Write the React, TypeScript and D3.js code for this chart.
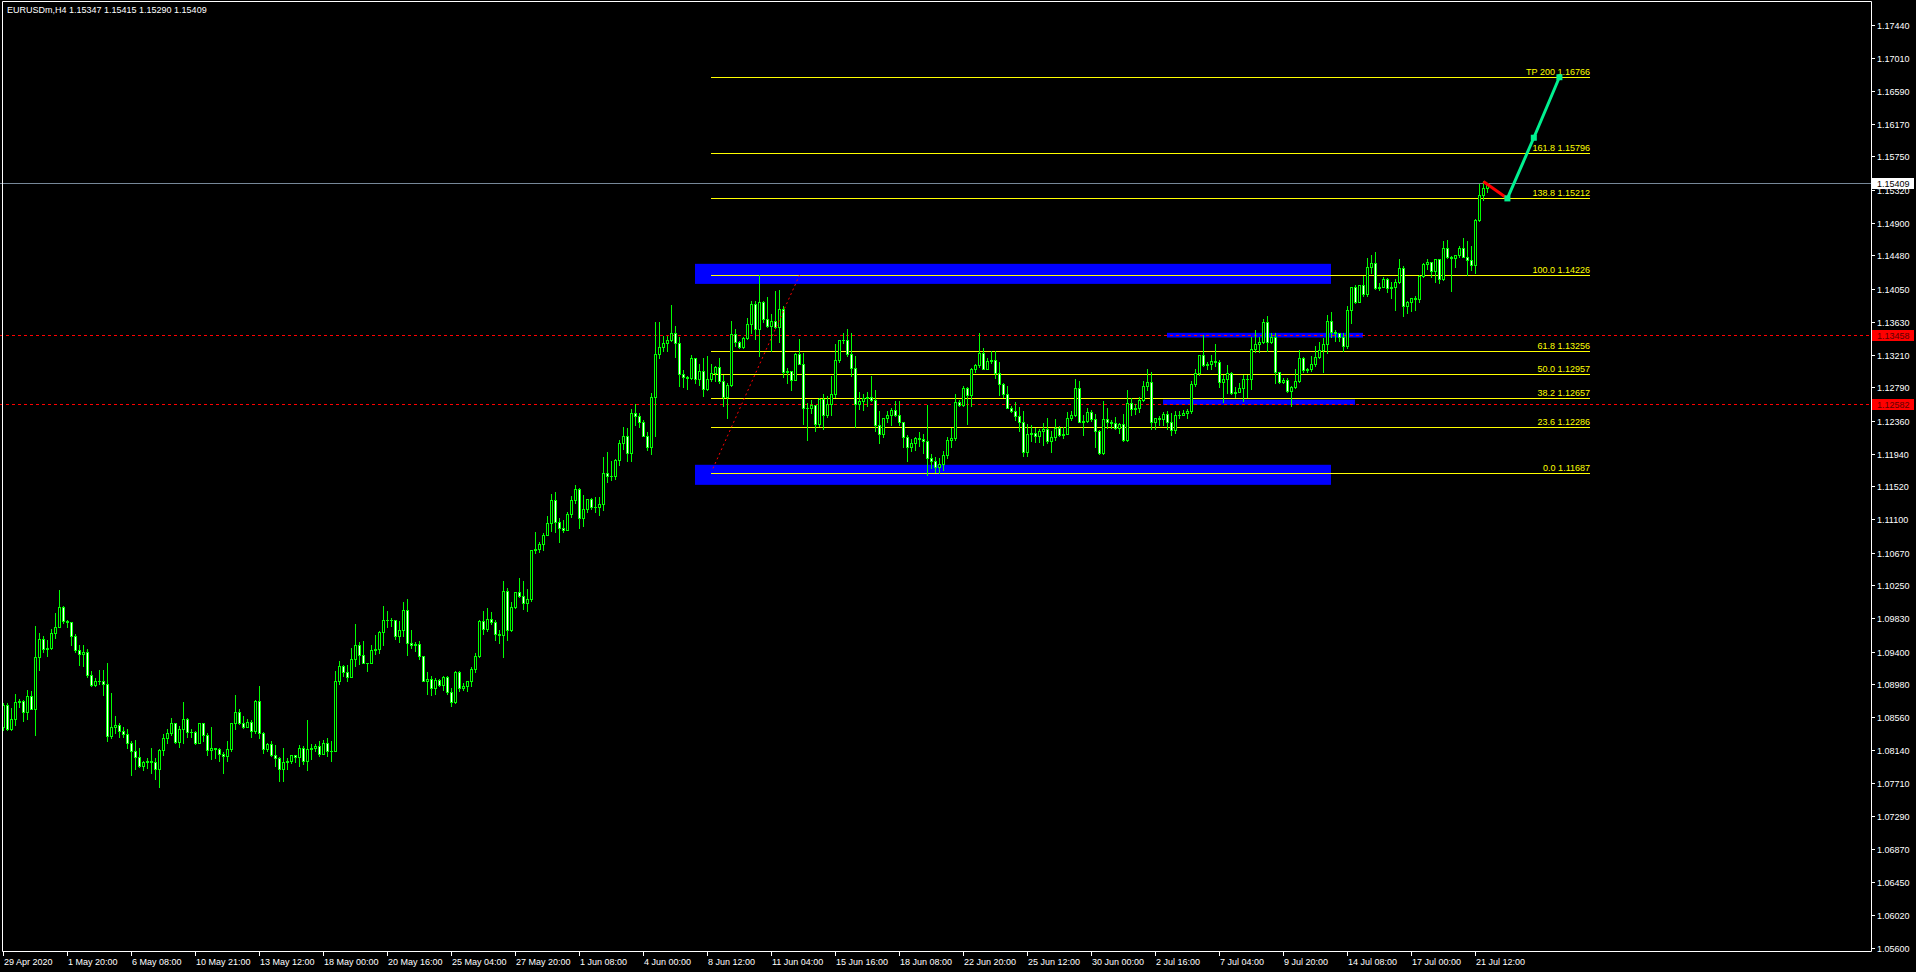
import React from 'react';
import * as d3 from 'd3';

const W = 1916;
const H = 972;
const PLOT_RIGHT = 1871;
const PLOT_BOTTOM = 951;

const symbolHeader = 'EURUSDm,H4  1.15347 1.15415 1.15290 1.15409';

const firstOpen = 1.0844;
const closes = [
  1.0871, 1.0841, 1.0853, 1.0876, 1.0877, 1.0862, 1.0883, 1.0867, 1.0933, 1.0956,
  1.0944, 1.0945, 1.0964, 1.0972, 1.0997, 1.0979, 1.0978, 1.0960, 1.0942, 1.0937,
  1.0940, 1.0910, 1.0897, 1.0902, 1.0903, 1.0898, 1.0832, 1.0843, 1.0846, 1.0838,
  1.0834, 1.0823, 1.0812, 1.0805, 1.0793, 1.0798, 1.0800, 1.0799, 1.0790, 1.0814,
  1.0829, 1.0836, 1.0848, 1.0824, 1.0841, 1.0854, 1.0837, 1.0837, 1.0823, 1.0848,
  1.0833, 1.0814, 1.0817, 1.0815, 1.0809, 1.0806, 1.0815, 1.0849, 1.0863, 1.0849,
  1.0844, 1.0850, 1.0838, 1.0877, 1.0836, 1.0815, 1.0821, 1.0808, 1.0804, 1.0790,
  1.0799, 1.0800, 1.0807, 1.0805, 1.0817, 1.0800, 1.0815, 1.0816, 1.0819, 1.0809,
  1.0823, 1.0812, 1.0812, 1.0903, 1.0921, 1.0914, 1.0907, 1.0930, 1.0949, 1.0936,
  1.0926, 1.0926, 1.0942, 1.0943, 1.0965, 1.0980, 1.0980, 1.0980, 1.0960, 1.0968,
  1.0994, 1.0951, 1.0949, 1.0950, 1.0934, 1.0903, 1.0905, 1.0893, 1.0904, 1.0897,
  1.0908, 1.0888, 1.0875, 1.0914, 1.0894, 1.0896, 1.0902, 1.0918, 1.0935, 1.0979,
  1.0969, 1.0982, 1.0978, 1.0962, 1.0961, 1.1018, 1.0968, 1.0997, 1.1017, 1.1011,
  1.1003, 1.1007, 1.1070, 1.1072, 1.1078, 1.1090, 1.1105, 1.1135, 1.1106, 1.1099,
  1.1096, 1.1116, 1.1134, 1.1149, 1.1111, 1.1123, 1.1136, 1.1126, 1.1126, 1.1129,
  1.1169, 1.1165, 1.1165, 1.1186, 1.1207, 1.1217, 1.1195, 1.1246, 1.1242, 1.1235,
  1.1216, 1.1202, 1.1266, 1.1322, 1.1331, 1.1336, 1.1340, 1.1348, 1.1336, 1.1296,
  1.1292, 1.1291, 1.1316, 1.1289, 1.1300, 1.1277, 1.1289, 1.1297, 1.1305, 1.1287,
  1.1266, 1.1282, 1.1347, 1.1337, 1.1331, 1.1342, 1.1360, 1.1386, 1.1354, 1.1389,
  1.1366, 1.1357, 1.1364, 1.1356, 1.1379, 1.1299, 1.1300, 1.1288, 1.1322, 1.1309,
  1.1252, 1.1252, 1.1256, 1.1232, 1.1264, 1.1244, 1.1258, 1.1270, 1.1314, 1.1339,
  1.1340, 1.1322, 1.1304, 1.1258, 1.1261, 1.1265, 1.1266, 1.1263, 1.1230, 1.1219,
  1.1240, 1.1243, 1.1250, 1.1243, 1.1234, 1.1215, 1.1202, 1.1208, 1.1214, 1.1213,
  1.1210, 1.1188, 1.1185, 1.1177, 1.1180, 1.1192, 1.1211, 1.1214, 1.1260, 1.1256,
  1.1278, 1.1269, 1.1302, 1.1307, 1.1323, 1.1303, 1.1313, 1.1314, 1.1297, 1.1283,
  1.1270, 1.1252, 1.1249, 1.1242, 1.1234, 1.1196, 1.1219, 1.1220, 1.1217, 1.1223,
  1.1226, 1.1210, 1.1215, 1.1227, 1.1218, 1.1219, 1.1240, 1.1244, 1.1278, 1.1235,
  1.1236, 1.1247, 1.1238, 1.1223, 1.1195, 1.1238, 1.1234, 1.1233, 1.1227, 1.1232,
  1.1212, 1.1259, 1.1251, 1.1252, 1.1263, 1.1281, 1.1286, 1.1235, 1.1239, 1.1238,
  1.1245, 1.1235, 1.1224, 1.1243, 1.1244, 1.1246, 1.1248, 1.1283, 1.1297, 1.1320,
  1.1307, 1.1309, 1.1313, 1.1312, 1.1286, 1.1289, 1.1297, 1.1272, 1.1273, 1.1278,
  1.1289, 1.1289, 1.1328, 1.1334, 1.1337, 1.1363, 1.1337, 1.1343, 1.1298, 1.1286,
  1.1288, 1.1274, 1.1280, 1.1287, 1.1317, 1.1301, 1.1302, 1.1309, 1.1318, 1.1327,
  1.1335, 1.1364, 1.1350, 1.1349, 1.1344, 1.1332, 1.1378, 1.1407, 1.1389, 1.1410,
  1.1398, 1.1433, 1.1438, 1.1406, 1.1408, 1.1418, 1.1406, 1.1407, 1.1414, 1.1432,
  1.1383, 1.1388, 1.1393, 1.1392, 1.1422, 1.1437, 1.1440, 1.1428, 1.1443, 1.1418,
  1.1457, 1.1446, 1.1445, 1.1449, 1.1457, 1.1446, 1.1442, 1.1436, 1.1494, 1.1526,
  1.15347, 1.15409,
];
const highs = [
  1.0874, 1.0874, 1.0868, 1.0886, 1.0879, 1.0878, 1.0891, 1.0889, 1.0973, 1.0964,
  1.0960, 1.0955, 1.0969, 1.0990, 1.1019, 1.0999, 1.0981, 1.0969, 1.0962, 1.0948,
  1.0949, 1.0943, 1.0915, 1.0906, 1.0916, 1.0916, 1.0925, 1.0887, 1.0858, 1.0848,
  1.0843, 1.0841, 1.0825, 1.0827, 1.0817, 1.0800, 1.0804, 1.0817, 1.0804, 1.0815,
  1.0834, 1.0841, 1.0855, 1.0849, 1.0845, 1.0876, 1.0855, 1.0841, 1.0838, 1.0849,
  1.0849, 1.0836, 1.0843, 1.0817, 1.0817, 1.0811, 1.0826, 1.0849, 1.0885, 1.0866,
  1.0858, 1.0853, 1.0852, 1.0878, 1.0896, 1.0837, 1.0823, 1.0825, 1.0820, 1.0805,
  1.0817, 1.0804, 1.0808, 1.0807, 1.0820, 1.0819, 1.0852, 1.0822, 1.0821, 1.0825,
  1.0827, 1.0829, 1.0825, 1.0915, 1.0928, 1.0923, 1.0923, 1.0945, 1.0976, 1.0953,
  1.0954, 1.0926, 1.0948, 1.0961, 1.0966, 1.0999, 1.0992, 1.0983, 1.0981, 1.0979,
  1.1004, 1.1008, 1.0968, 1.0953, 1.0954, 1.0935, 1.0914, 1.0909, 1.0906, 1.0905,
  1.0909, 1.0909, 1.0894, 1.0915, 1.0915, 1.0900, 1.0902, 1.0920, 1.0938, 1.0981,
  1.0992, 1.0996, 1.0991, 1.0980, 1.0968, 1.1031, 1.1022, 1.1004, 1.1017, 1.1035,
  1.1031, 1.1020, 1.1070, 1.1094, 1.1081, 1.1092, 1.1114, 1.1142, 1.1145, 1.1111,
  1.1109, 1.1119, 1.1140, 1.1154, 1.1150, 1.1141, 1.1136, 1.1137, 1.1138, 1.1138,
  1.1189, 1.1196, 1.1185, 1.1187, 1.1212, 1.1228, 1.1227, 1.1251, 1.1257, 1.1246,
  1.1237, 1.1222, 1.1272, 1.1363, 1.1363, 1.1345, 1.1345, 1.1385, 1.1357, 1.1343,
  1.1301, 1.1293, 1.1321, 1.1317, 1.1309, 1.1316, 1.1319, 1.1309, 1.1306, 1.1316,
  1.1295, 1.1284, 1.1364, 1.1354, 1.1338, 1.1343, 1.1368, 1.1390, 1.1390, 1.1423,
  1.1390, 1.1395, 1.1373, 1.1402, 1.1404, 1.1383, 1.1304, 1.1297, 1.1323, 1.1341,
  1.1323, 1.1259, 1.1263, 1.1255, 1.1265, 1.1270, 1.1268, 1.1294, 1.1334, 1.1340,
  1.1348, 1.1354, 1.1348, 1.1319, 1.1273, 1.1270, 1.1273, 1.1294, 1.1276, 1.1249,
  1.1240, 1.1248, 1.1252, 1.1262, 1.1262, 1.1235, 1.1218, 1.1213, 1.1215, 1.1222,
  1.1219, 1.1256, 1.1193, 1.1189, 1.1188, 1.1197, 1.1215, 1.1227, 1.1271, 1.1263,
  1.1281, 1.1280, 1.1304, 1.1309, 1.1349, 1.1329, 1.1316, 1.1326, 1.1326, 1.1312,
  1.1285, 1.1281, 1.1255, 1.1260, 1.1254, 1.1248, 1.1232, 1.1231, 1.1227, 1.1225,
  1.1233, 1.1240, 1.1223, 1.1238, 1.1229, 1.1228, 1.1247, 1.1248, 1.1289, 1.1287,
  1.1243, 1.1252, 1.1250, 1.1245, 1.1224, 1.1261, 1.1253, 1.1237, 1.1241, 1.1233,
  1.1245, 1.1276, 1.1265, 1.1257, 1.1267, 1.1287, 1.1302, 1.1298, 1.1240, 1.1242,
  1.1247, 1.1248, 1.1246, 1.1248, 1.1248, 1.1250, 1.1251, 1.1287, 1.1302, 1.1321,
  1.1346, 1.1312, 1.1321, 1.1334, 1.1314, 1.1295, 1.1307, 1.1299, 1.1279, 1.1284,
  1.1295, 1.1295, 1.1344, 1.1353, 1.1344, 1.1366, 1.1371, 1.1349, 1.1349, 1.1299,
  1.1291, 1.1291, 1.1281, 1.1302, 1.1327, 1.1318, 1.1304, 1.1319, 1.1332, 1.1337,
  1.1342, 1.1372, 1.1376, 1.1353, 1.1349, 1.1349, 1.1383, 1.1408, 1.1410, 1.1410,
  1.1422, 1.1445, 1.1448, 1.1453, 1.1413, 1.1420, 1.1419, 1.1414, 1.1418, 1.1443,
  1.1434, 1.1390, 1.1393, 1.1396, 1.1423, 1.1439, 1.1444, 1.1440, 1.1444, 1.1443,
  1.1467, 1.1468, 1.1447, 1.1449, 1.1460, 1.1471, 1.1467, 1.1460, 1.1495, 1.1540,
  1.1543, 1.15415,
];
const lows = [
  1.0839, 1.0840, 1.0839, 1.0846, 1.0869, 1.0851, 1.0853, 1.0866, 1.0833, 1.0917,
  1.0939, 1.0934, 1.0943, 1.0958, 1.0972, 1.0977, 1.0972, 1.0949, 1.0940, 1.0923,
  1.0922, 1.0908, 1.0896, 1.0896, 1.0898, 1.0884, 1.0825, 1.0829, 1.0836, 1.0831,
  1.0831, 1.0816, 1.0782, 1.0790, 1.0792, 1.0788, 1.0791, 1.0785, 1.0777, 1.0766,
  1.0808, 1.0823, 1.0833, 1.0823, 1.0818, 1.0823, 1.0831, 1.0831, 1.0822, 1.0835,
  1.0826, 1.0808, 1.0802, 1.0804, 1.0800, 1.0784, 1.0800, 1.0812, 1.0841, 1.0847,
  1.0842, 1.0843, 1.0830, 1.0836, 1.0829, 1.0810, 1.0812, 1.0806, 1.0794, 1.0774,
  1.0774, 1.0789, 1.0797, 1.0798, 1.0793, 1.0796, 1.0788, 1.0802, 1.0812, 1.0806,
  1.0812, 1.0806, 1.0800, 1.0819, 1.0898, 1.0909, 1.0902, 1.0907, 1.0921, 1.0924,
  1.0925, 1.0915, 1.0926, 1.0937, 1.0938, 1.0949, 1.0971, 1.0973, 1.0956, 1.0952,
  1.0960, 1.0936, 1.0945, 1.0941, 1.0930, 1.0903, 1.0886, 1.0884, 1.0886, 1.0896,
  1.0891, 1.0886, 1.0870, 1.0874, 1.0889, 1.0891, 1.0889, 1.0896, 1.0914, 1.0933,
  1.0962, 1.0967, 1.0975, 1.0955, 1.0951, 1.0933, 1.0955, 1.0966, 1.0996, 1.1010,
  1.0995, 1.0992, 1.1005, 1.1066, 1.1068, 1.1070, 1.1089, 1.1095, 1.1094, 1.1080,
  1.1094, 1.1097, 1.1113, 1.1130, 1.1099, 1.1101, 1.1119, 1.1123, 1.1119, 1.1115,
  1.1122, 1.1157, 1.1160, 1.1162, 1.1179, 1.1200, 1.1184, 1.1185, 1.1231, 1.1228,
  1.1216, 1.1198, 1.1194, 1.1216, 1.1317, 1.1326, 1.1326, 1.1338, 1.1318, 1.1281,
  1.1279, 1.1277, 1.1290, 1.1285, 1.1282, 1.1268, 1.1275, 1.1287, 1.1287, 1.1284,
  1.1255, 1.1240, 1.1281, 1.1332, 1.1330, 1.1330, 1.1341, 1.1348, 1.1341, 1.1319,
  1.1363, 1.1356, 1.1325, 1.1355, 1.1337, 1.1292, 1.1284, 1.1276, 1.1292, 1.1309,
  1.1232, 1.1212, 1.1246, 1.1223, 1.1229, 1.1226, 1.1241, 1.1244, 1.1267, 1.1312,
  1.1336, 1.1319, 1.1294, 1.1228, 1.1251, 1.1250, 1.1255, 1.1262, 1.1223, 1.1207,
  1.1215, 1.1235, 1.1230, 1.1242, 1.1230, 1.1202, 1.1185, 1.1197, 1.1198, 1.1204,
  1.1195, 1.1167, 1.1176, 1.1170, 1.1169, 1.1173, 1.1188, 1.1203, 1.1212, 1.1255,
  1.1255, 1.1232, 1.1255, 1.1299, 1.1305, 1.1302, 1.1302, 1.1310, 1.1291, 1.1269,
  1.1267, 1.1252, 1.1247, 1.1237, 1.1223, 1.1191, 1.1191, 1.1210, 1.1209, 1.1209,
  1.1205, 1.1208, 1.1196, 1.1212, 1.1216, 1.1214, 1.1219, 1.1237, 1.1242, 1.1234,
  1.1218, 1.1235, 1.1236, 1.1203, 1.1193, 1.1194, 1.1227, 1.1227, 1.1226, 1.1220,
  1.1210, 1.1210, 1.1243, 1.1245, 1.1247, 1.1261, 1.1275, 1.1225, 1.1226, 1.1230,
  1.1231, 1.1225, 1.1218, 1.1220, 1.1240, 1.1243, 1.1240, 1.1246, 1.1281, 1.1295,
  1.1306, 1.1303, 1.1302, 1.1306, 1.1280, 1.1260, 1.1272, 1.1271, 1.1267, 1.1273,
  1.1262, 1.1267, 1.1277, 1.1324, 1.1324, 1.1336, 1.1325, 1.1336, 1.1285, 1.1285,
  1.1285, 1.1273, 1.1255, 1.1278, 1.1286, 1.1299, 1.1298, 1.1300, 1.1306, 1.1316,
  1.1299, 1.1323, 1.1343, 1.1338, 1.1338, 1.1325, 1.1330, 1.1361, 1.1387, 1.1388,
  1.1396, 1.1396, 1.1425, 1.1405, 1.1404, 1.1408, 1.1401, 1.1393, 1.1378, 1.1413,
  1.1370, 1.1374, 1.1377, 1.1378, 1.1388, 1.1420, 1.1431, 1.1421, 1.1414, 1.1413,
  1.1417, 1.1445, 1.1402, 1.1433, 1.1446, 1.1446, 1.1423, 1.1430, 1.1425, 1.1492,
  1.1519, 1.15290,
];

const dateLabels = [
  '29 Apr 2020', '1 May 20:00', '6 May 08:00', '10 May 21:00', '13 May 12:00', '18 May 00:00',
  '20 May 16:00', '25 May 04:00', '27 May 20:00', '1 Jun 08:00', '4 Jun 00:00', '8 Jun 12:00',
  '11 Jun 04:00', '15 Jun 16:00', '18 Jun 08:00', '22 Jun 20:00', '25 Jun 12:00', '30 Jun 00:00',
  '2 Jul 16:00', '7 Jul 04:00', '9 Jul 20:00', '14 Jul 08:00', '17 Jul 00:00', '21 Jul 12:00',
];
const dateLabelEvery = 16;

const priceTicks = [
  1.17440, 1.17010, 1.16590, 1.16170, 1.15750, 1.15320, 1.14900, 1.14480, 1.14050, 1.13630,
  1.13210, 1.12790, 1.12360, 1.11940, 1.11520, 1.11100, 1.10670, 1.10250, 1.09830, 1.09400,
  1.08980, 1.08560, 1.08140, 1.07710, 1.07290, 1.06870, 1.06450, 1.06020, 1.05600,
];

const fibNames = ['TP 200', '161.8', '138.8', '100.0', '61.8', '50.0', '38.2', '23.6', '0.0'];
const fibValues = [1.16766, 1.15796, 1.15212, 1.14226, 1.13256, 1.12957, 1.12657, 1.12286, 1.11687];
const fibStartBar = 177;
const fibEndBar = 396.75;

const zoneFromBar = [173, 173, 291, 290];
const zoneToBar = [332, 332, 340, 338];
const zoneTop = [1.14373, 1.11796, 1.13488, 1.12633];
const zoneBottom = [1.14116, 1.11539, 1.13428, 1.12565];

const redLevels = [1.13458, 1.12582];
const currentPrice = 1.15409;

const fibLineBars = [177.5, 199.1];
const fibLinePrices = [1.1175, 1.14226];

const redLegBars = [370.1, 376.1];
const redLegPrices = [1.15428, 1.15212];
const greenLegBars = [376.1, 382.7, 389.1];
const greenLegPrices = [1.15212, 1.15990, 1.16766];

const FONT = '"Liberation Sans", Arial, sans-serif';
const GREEN = '#00ff00';

export default function App() {
  const x = d3.scaleLinear().domain([0, 1]).range([3, 7]);
  const y = d3.scaleLinear().domain([1.11687, 1.14226]).range([473.3, 275.3]);
  const fmt = d3.format('.5f');
  const ry = (p: number) => Math.round(y(p));

  const candles = closes.map((c, i) => {
    const o = i === 0 ? firstOpen : closes[i - 1];
    const h = Math.max(highs[i], o, c);
    const l = Math.min(lows[i], o, c);
    const cx = Math.round(x(i));
    const yh = ry(h);
    const yl = ry(l);
    const yt = ry(Math.max(o, c));
    const yb = ry(Math.min(o, c));
    const bull = c >= o;
    return (
      <g key={i}>
        <rect x={cx} y={yh} width={1} height={yl - yh + 1} fill={GREEN} />
        <rect x={cx - 1} y={yt} width={3} height={yb - yt + 1} fill={GREEN} />
        {yb - yt >= 2 && (
          <rect x={cx} y={yt + 1} width={1} height={yb - yt - 1} fill={bull ? '#000000' : '#ffffff'} />
        )}
      </g>
    );
  });

  const greenLine = d3.line<number>().x((_, i) => x(greenLegBars[i])).y((p) => y(p));
  const redLine = d3.line<number>().x((_, i) => x(redLegBars[i])).y((p) => y(p));

  return (
    <svg
      width={W}
      height={H}
      style={{ position: 'absolute', left: 0, top: 0, background: '#000', display: 'block' }}
      fontFamily={FONT}
    >
      <rect x={0} y={0} width={W} height={H} fill="#000" />

      {/* zones */}
      {zoneTop.map((t, i) => (
        <rect
          key={'z' + i}
          x={x(zoneFromBar[i])}
          y={y(t)}
          width={x(zoneToBar[i]) - x(zoneFromBar[i])}
          height={y(zoneBottom[i]) - y(t)}
          fill="#0000ff"
        />
      ))}

      {/* fib lines */}
      {fibValues.map((v, i) => (
        <line
          key={'f' + i}
          x1={x(fibStartBar)}
          x2={x(fibEndBar)}
          y1={ry(v) + 0.5}
          y2={ry(v) + 0.5}
          stroke="#ffff00"
          strokeWidth={1}
        />
      ))}

      {/* red horizontal levels */}
      {redLevels.map((v, i) => (
        <line
          key={'r' + i}
          x1={0}
          x2={PLOT_RIGHT}
          y1={ry(v) + 0.5}
          y2={ry(v) + 0.5}
          stroke="#ff0000"
          strokeWidth={1}
          strokeDasharray="3,3"
        />
      ))}

      {/* current price line */}
      <line x1={0} x2={PLOT_RIGHT} y1={ry(currentPrice) + 0.5} y2={ry(currentPrice) + 0.5} stroke="#778899" strokeWidth={1} />

      {/* candles */}
      {candles}

      {/* fib trend dotted line */}
      <line
        x1={x(fibLineBars[0])}
        y1={y(fibLinePrices[0])}
        x2={x(fibLineBars[1])}
        y2={y(fibLinePrices[1])}
        stroke="#ff0000"
        strokeWidth={1}
        strokeDasharray="2,3"
      />

      {/* fib labels */}
      {fibValues.map((v, i) => (
        <text
          key={'fl' + i}
          x={x(fibEndBar)}
          y={ry(v) - 2}
          textAnchor="end"
          fontSize={9}
          fill="#ffff00"
        >
          {fibNames[i] + ' ' + fmt(v)}
        </text>
      ))}

      {/* projection */}
      <path d={redLine(redLegPrices) || ''} stroke="#ff0000" strokeWidth={3} fill="none" />
      <path d={greenLine(greenLegPrices) || ''} stroke="#00f090" strokeWidth={3} fill="none" />
      {greenLegPrices.map((p, i) => (
        <rect key={'gs' + i} x={x(greenLegBars[i]) - 3} y={y(p) - 3} width={6} height={6} fill="#00f090" />
      ))}

      {/* header */}
      <text x={7} y={13} fontSize={9} fill="#ffffff">{symbolHeader}</text>

      {/* frame */}
      <line x1={2.5} y1={1.5} x2={PLOT_RIGHT + 0.5} y2={1.5} stroke="#fff" />
      <line x1={2.5} y1={1.5} x2={2.5} y2={PLOT_BOTTOM + 0.5} stroke="#fff" />
      <line x1={PLOT_RIGHT + 0.5} y1={1.5} x2={PLOT_RIGHT + 0.5} y2={PLOT_BOTTOM + 0.5} stroke="#fff" />
      <line x1={2.5} y1={PLOT_BOTTOM + 0.5} x2={PLOT_RIGHT + 0.5} y2={PLOT_BOTTOM + 0.5} stroke="#fff" />

      {/* price axis */}
      {priceTicks.map((t, i) => (
        <g key={'pt' + i}>
          <line x1={PLOT_RIGHT} x2={PLOT_RIGHT + 4} y1={ry(t) + 0.5} y2={ry(t) + 0.5} stroke="#fff" />
          <text x={PLOT_RIGHT + 6} y={ry(t) + 3.5} fontSize={9} fill="#fff">
            {fmt(t)}
          </text>
        </g>
      ))}

      {/* axis price labels */}
      <rect x={PLOT_RIGHT + 1} y={ry(currentPrice) - 5} width={42} height={11} fill="#fff" />
      <text x={PLOT_RIGHT + 6} y={ry(currentPrice) + 3.5} fontSize={9} fill="#000">{fmt(currentPrice)}</text>
      {redLevels.map((v, i) => (
        <g key={'rl' + i}>
          <rect x={PLOT_RIGHT + 1} y={ry(v) - 5} width={42} height={11} fill="#ff0000" />
          <text x={PLOT_RIGHT + 6} y={ry(v) + 3.5} fontSize={9} fill="#600000">{fmt(v)}</text>
        </g>
      ))}

      {/* time axis */}
      {dateLabels.map((d, i) => {
        const tx = Math.round(x(i * dateLabelEvery));
        return (
          <g key={'d' + i}>
            <line x1={tx + 0.5} x2={tx + 0.5} y1={PLOT_BOTTOM} y2={PLOT_BOTTOM + 5} stroke="#fff" />
            <text x={tx + 1} y={PLOT_BOTTOM + 14} fontSize={9} fill="#fff">{d}</text>
          </g>
        );
      })}
    </svg>
  );
}
